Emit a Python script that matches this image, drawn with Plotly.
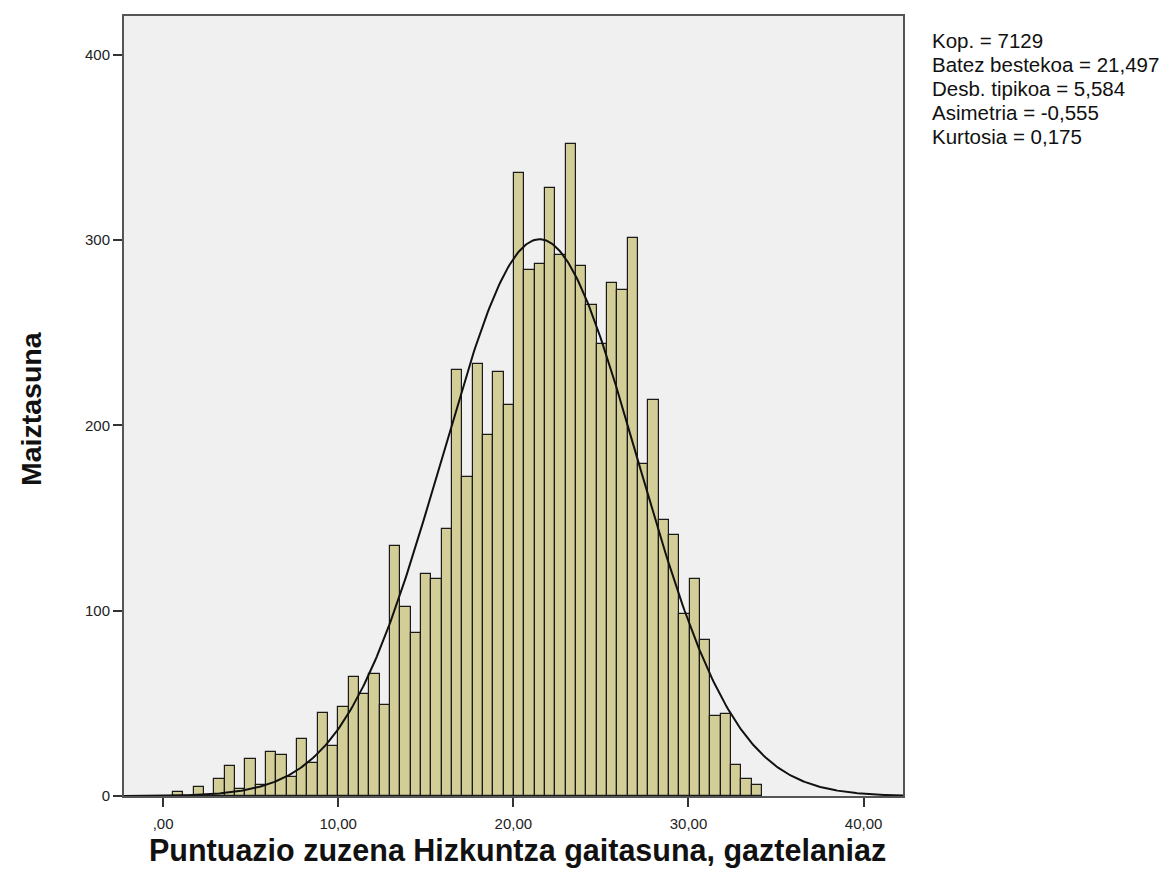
import numpy as np
import plotly.graph_objects as go

# ---- data ----
bin_start = 0.57
bin_width = 0.59
counts = [2, 0, 5, 0, 9, 16, 4, 20, 6, 24,
          22, 10, 31, 18, 45, 27, 48, 64, 55, 66,
          49, 135, 102, 88, 120, 117, 144, 230, 172, 233,
          195, 229, 211, 336, 284, 287, 328, 292, 352, 286,
          265, 244, 277, 273, 301, 179, 214, 149, 141, 98,
          117, 84, 43, 44, 17, 9, 6]
n_total = 7129
mean_val = 21.497
sd_val = 5.584
stats_lines = ["Kop. = 7129", "Batez bestekoa = 21,497", "Desb. tipikoa = 5,584",
               "Asimetria = -0,555", "Kurtosia = 0,175"]
x_tickvals = [0, 10, 20, 30, 40]
x_ticktext = [",00", "10,00", "20,00", "30,00", "40,00"]
y_tickvals = [0, 100, 200, 300, 400]

x_range = [-2.23, 42.25]
y_range = [0, 421]

centers = bin_start + bin_width * (np.arange(len(counts)) + 0.5)

xs = np.linspace(x_range[0], x_range[1], 500)
curve = n_total * bin_width * np.exp(-0.5 * ((xs - mean_val) / sd_val) ** 2) / (sd_val * np.sqrt(2 * np.pi))

fig = go.Figure()
fig.add_trace(go.Bar(x=centers, y=counts, width=bin_width,
                     marker=dict(color="#D3CE98", line=dict(color="#1a1a1a", width=1.2)),
                     showlegend=False, hoverinfo="x+y"))
fig.add_trace(go.Scatter(x=xs, y=curve, mode="lines",
                         line=dict(color="#111111", width=2), showlegend=False))

# page body has an 8px margin; plot area targeted at page x 124..903, y 14..796
OFF = 8
L, T = 124 - OFF, 14 - OFF
PW, PH = 779, 782
W, H = 1171 - OFF, 892 - 2 * OFF

def px(xp):
    return (xp - 124) / PW

def py(yp):
    return (796 - yp) / PH

font_family = "Liberation Sans, Arial, sans-serif"
fig.update_layout(
    width=W, height=H,
    margin=dict(l=L, r=W - L - PW, t=T, b=H - T - PH),
    paper_bgcolor="white", plot_bgcolor="#F0F0F0",
    bargap=0,
    font=dict(family=font_family, color="#222222"),
    xaxis=dict(range=x_range, tickvals=x_tickvals, ticktext=x_ticktext,
               showgrid=False, zeroline=False, showline=True, mirror=True,
               linecolor="#555555", linewidth=2, ticks="outside", ticklen=9,
               ticklabelstandoff=4,
               tickcolor="#333333", tickwidth=2, tickfont=dict(size=15, color="#222222")),
    yaxis=dict(range=y_range, tickvals=y_tickvals,
               showgrid=False, zeroline=False, showline=True, mirror=True,
               linecolor="#555555", linewidth=2, ticks="outside", ticklen=9,
               tickcolor="#333333", tickwidth=2, tickfont=dict(size=15, color="#222222")),
)

annotations = []
line_y = [38.5, 62.5, 86.5, 110.5, 134.5]
for txt, yy in zip(stats_lines, line_y):
    annotations.append(dict(text=txt, xref="paper", yref="paper",
                            x=px(930), y=py(yy),
                            xanchor="left", yanchor="middle", showarrow=False,
                            font=dict(size=20.5, color="#111111", family=font_family)))
annotations.append(dict(text="<b>Puntuazio zuzena Hizkuntza gaitasuna, gaztelaniaz</b>",
                        xref="paper", yref="paper", x=px(517.5), y=py(851),
                        xanchor="center", yanchor="middle", showarrow=False,
                        font=dict(size=30.5, color="#111111", family=font_family)))
annotations.append(dict(text="<b>Maiztasuna</b>", xref="paper", yref="paper",
                        x=px(31), y=py(408), textangle=-90,
                        xanchor="center", yanchor="middle", showarrow=False,
                        font=dict(size=28.5, color="#111111", family=font_family)))
fig.update_layout(annotations=annotations)

fig.write_html("out.html")
